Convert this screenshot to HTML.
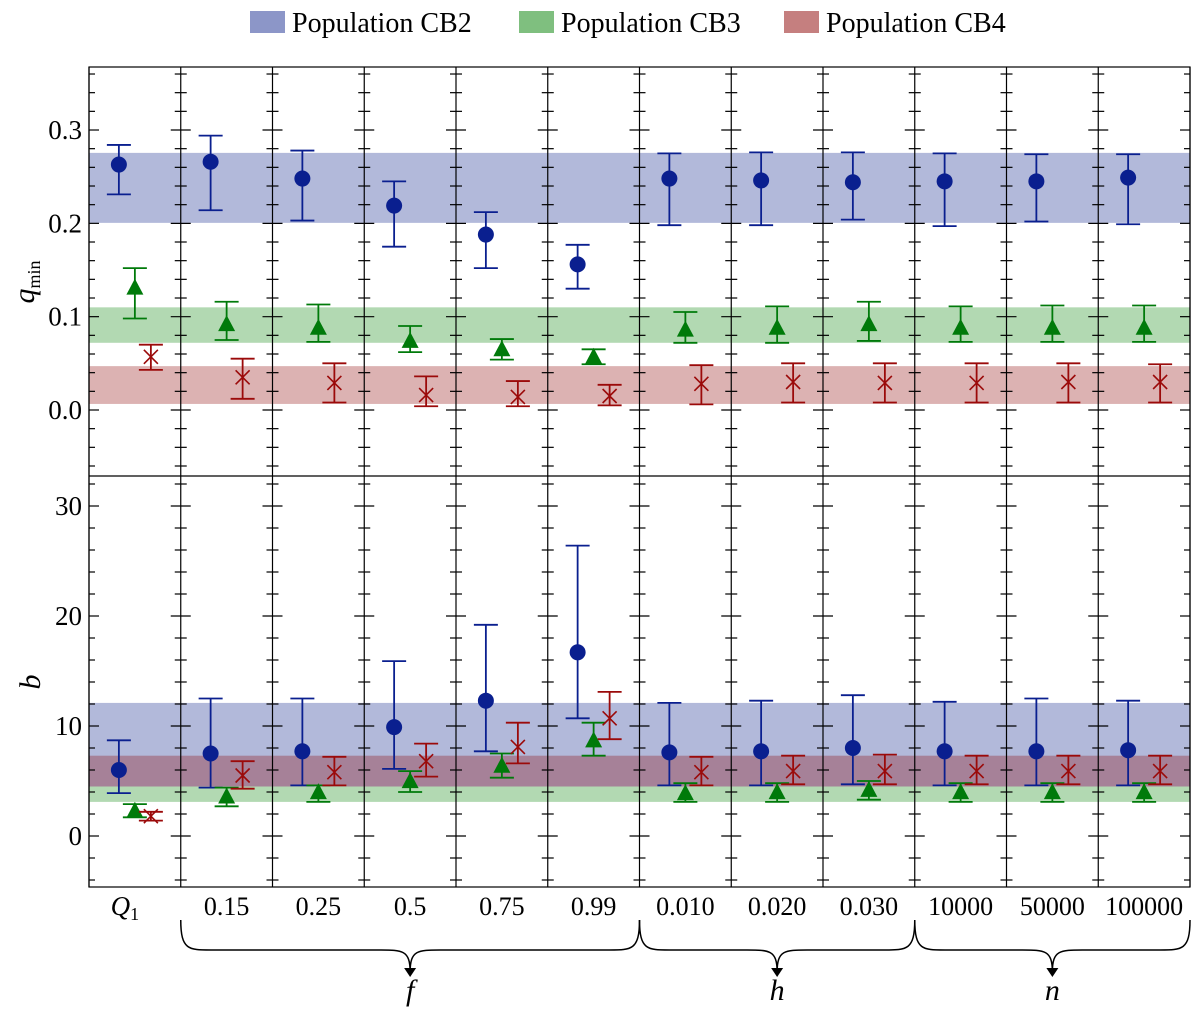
<!DOCTYPE html>
<html><head><meta charset="utf-8">
<style>
body{margin:0;background:#fff;}
svg{display:block;font-family:"Liberation Serif",serif;}
</style></head>
<body>
<svg id="chart" width="1200" height="1018" viewBox="0 0 1200 1018" xmlns="http://www.w3.org/2000/svg"></svg>
<script>
const categories=["Q1","0.15","0.25","0.5","0.75","0.99","0.010","0.020","0.030","10000","50000","100000"];
// top panel q_min
const qBlue=[0.263,0.266,0.248,0.219,0.188,0.156,0.248,0.246,0.244,0.245,0.245,0.249];
const qBlueLo=[0.231,0.214,0.203,0.175,0.152,0.130,0.198,0.198,0.204,0.197,0.202,0.199];
const qBlueHi=[0.284,0.294,0.278,0.245,0.212,0.177,0.275,0.276,0.276,0.275,0.274,0.274];
const qGreen=[0.130,0.091,0.087,0.073,0.064,0.056,0.085,0.087,0.091,0.087,0.087,0.087];
const qGreenLo=[0.098,0.075,0.073,0.062,0.054,0.049,0.072,0.072,0.074,0.073,0.073,0.073];
const qGreenHi=[0.152,0.116,0.113,0.090,0.076,0.065,0.105,0.111,0.116,0.111,0.112,0.112];
const qRed=[0.057,0.035,0.029,0.016,0.014,0.015,0.028,0.030,0.029,0.029,0.030,0.030];
const qRedLo=[0.043,0.012,0.008,0.004,0.004,0.005,0.006,0.008,0.008,0.008,0.008,0.008];
const qRedHi=[0.070,0.055,0.050,0.036,0.031,0.027,0.048,0.050,0.050,0.050,0.050,0.049];
// bottom panel b
const bBlue=[6.0,7.5,7.7,9.9,12.3,16.7,7.6,7.7,8.0,7.7,7.7,7.8];
const bBlueLo=[3.9,4.4,4.6,6.1,7.7,10.7,4.6,4.6,4.7,4.6,4.6,4.6];
const bBlueHi=[8.7,12.5,12.5,15.9,19.2,26.4,12.1,12.3,12.8,12.2,12.5,12.3];
const bGreen=[2.2,3.5,3.9,4.9,6.3,8.6,3.8,3.9,4.1,3.9,3.9,3.9];
const bGreenLo=[1.7,2.7,3.1,4.0,5.3,7.3,3.1,3.1,3.3,3.1,3.1,3.1];
const bGreenHi=[2.9,4.4,4.6,5.9,7.5,10.3,4.8,4.8,5.0,4.8,4.8,4.8];
const bRed=[1.8,5.5,5.8,6.8,8.1,10.7,5.8,5.9,5.9,5.9,5.9,5.9];
const bRedLo=[1.4,4.3,4.6,5.4,6.6,8.8,4.6,4.7,4.7,4.7,4.7,4.7];
const bRedHi=[2.2,6.8,7.2,8.4,10.3,13.1,7.2,7.3,7.4,7.3,7.3,7.3];
const qBands=[[0.2005,0.2755],[0.072,0.110],[0.0065,0.047]];
const bBands=[[4.5,12.1],[3.1,4.5],[4.5,7.3]];
const qTicks=["0.0","0.1","0.2","0.3"];
const bTicks=["0","10","20","30"];

const NS="http://www.w3.org/2000/svg";
const svg=document.getElementById('chart');
function mk(tag,attrs,parent,text){const e=document.createElementNS(NS,tag);for(const k in attrs)e.setAttribute(k,attrs[k]);if(text!==undefined)e.textContent=text;(parent||svg).appendChild(e);return e;}
const X0=89,X1=1190,ncol=12,cw=(X1-X0)/ncol;
const colX=i=>X0+cw*i;
const cx=i=>X0+cw*(i+0.5);
const T0=67,T1=476,B1=887;
const yq=v=>410-v*933.3;
const yb=v=>836-v*11.0;
const colors={blue:"#0a1f8f",green:"#007a0a",red:"#9b0a0a"};
const bandCol=["rgba(0,23,134,0.3)","rgba(0,128,0,0.3)","rgba(139,0,0,0.3)"];

[[qBands,yq,T0,T1,'q'],[bBands,yb,T1,B1,'b']].forEach(([bands,f,t,b,p])=>{
 bands.forEach((bd,k)=>{
  const r=mk('rect',{x:X0,y:f(bd[1]),width:X1-X0,height:f(bd[0])-f(bd[1]),fill:bandCol[k]});
  
  
 });
});

function ticks(f,top,bot,minorStep,majorStep,vmin,vmax,p){
 for(let i=0;i<=ncol;i++){
  const x=colX(i);
  for(let v=vmin;v<=vmax+1e-9;v+=minorStep){
   const y=f(v); if(y<top+1||y>bot-1)continue;
   const isMaj=Math.abs(v/majorStep-Math.round(v/majorStep))<1e-6;
   const L=isMaj?10:6;
   const x1=i===0?x:x-L, x2=i===ncol?x:x+L;
   const l=mk('line',{x1:x1,x2:x2,y1:y,y2:y,stroke:"#000","stroke-width":1.2});
   
   
  }
 }
}
ticks(yq,T0,T1,0.02,0.1,-0.06,0.36,'q');
ticks(yb,T1,B1,2,10,-4,32,'b');
for(let i=0;i<=ncol;i++){
 const l=mk('line',{x1:colX(i),x2:colX(i),y1:T0,y2:B1,stroke:"#000","stroke-width":1.2});
 
 
}
mk('rect',{x:X0,y:T0,width:X1-X0,height:B1-T0,fill:"none",stroke:"#000","stroke-width":1.2});
mk('line',{x1:X0,x2:X1,y1:T1,y2:T1,stroke:"#000","stroke-width":1.2});

qTicks.forEach(s=>{const t=mk('text',{x:82,y:yq(parseFloat(s))+9,"text-anchor":"end","font-size":27},svg,s);});
bTicks.forEach(s=>{const t=mk('text',{x:82,y:yb(parseFloat(s))+9,"text-anchor":"end","font-size":27},svg,s);});

let yt=mk('text',{transform:"translate(34,282) rotate(-90)","font-size":30,"font-style":"italic","text-anchor":"middle"});

mk('tspan',{},yt,'q');mk('tspan',{"font-size":18,"font-style":"normal",dy:6},yt,'min');
yt=mk('text',{transform:"translate(40,682) rotate(-90)","font-size":30,"font-style":"italic","text-anchor":"middle"},svg,'b');


categories.forEach((c,i)=>{
 let t;
 if(c==="Q1"){t=mk('text',{x:cx(i)-10,y:915,"text-anchor":"middle","font-size":27,"font-style":"italic"},svg,'Q');mk('tspan',{"font-size":18,"font-style":"normal",dy:5},t,'1');}
 else t=mk('text',{x:cx(i),y:915,"text-anchor":"middle","font-size":26},svg,c);
 
});

function brace(a,b,label,name){
 const m=(a+b)/2,y0=920,y1=950,tip=972;
 const d=`M${a},${y0} C${a},${y1} ${a+8},${y1} ${a+30},${y1} L${m-30},${y1} C${m-8},${y1} ${m},${y1} ${m},${tip} C${m},${y1} ${m+8},${y1} ${m+30},${y1} L${b-30},${y1} C${b-8},${y1} ${b},${y1} ${b},${y0}`;
 const p=mk('path',{d:d,fill:"none",stroke:"#000","stroke-width":1.5});
 
 mk('path',{d:`M${m-6},${tip-4} L${m+6},${tip-4} L${m},${tip+5} Z`,fill:"#000"});
 const t=mk('text',{x:m,y:1000,"text-anchor":"middle","font-size":30,"font-style":"italic"},svg,label);
 
}
brace(colX(1),colX(6),'f','f');brace(colX(6),colX(9),'h','h');brace(colX(9),colX(12),'n','n');

function series(vals,lo,hi,f,off,col,shape,name){
 vals.forEach((v,i)=>{
  const x=cx(i)+off,g=mk('g',{});
  
  mk('line',{x1:x,x2:x,y1:f(lo[i]),y2:f(hi[i]),stroke:col,"stroke-width":1.8},g);
  [lo[i],hi[i]].forEach(e=>mk('line',{x1:x-12,x2:x+12,y1:f(e),y2:f(e),stroke:col,"stroke-width":1.8},g));
  const y=f(v);
  if(shape==='o')mk('circle',{cx:x,cy:y,r:8,fill:col},g);
  else if(shape==='t')mk('path',{d:`M${x},${y-10} L${x+8.5},${y+6} L${x-8.5},${y+6} Z`,fill:col},g);
  else mk('path',{d:`M${x-7},${y-7} L${x+7},${y+7} M${x-7},${y+7} L${x+7},${y-7}`,stroke:col,"stroke-width":1.6},g);
 });
}
series(qBlue,qBlueLo,qBlueHi,yq,-16,colors.blue,'o','q-cb2');
series(qGreen,qGreenLo,qGreenHi,yq,0,colors.green,'t','q-cb3');
series(qRed,qRedLo,qRedHi,yq,16,colors.red,'x','q-cb4');
series(bBlue,bBlueLo,bBlueHi,yb,-16,colors.blue,'o','b-cb2');
series(bGreen,bGreenLo,bGreenHi,yb,0,colors.green,'t','b-cb3');
series(bRed,bRedLo,bRedHi,yb,16,colors.red,'x','b-cb4');

[["Population CB2","rgba(0,23,134,0.45)",250],["Population CB3","rgba(0,128,0,0.5)",519],["Population CB4","rgba(139,0,0,0.5)",784]].forEach(([s,c,x],k)=>{
 const g=mk('g',{});
 mk('rect',{x:x,y:11,width:35,height:22,fill:c},g);
 mk('text',{x:x+42,y:32,"font-size":28},g,s);
});
</script>
</body></html>
